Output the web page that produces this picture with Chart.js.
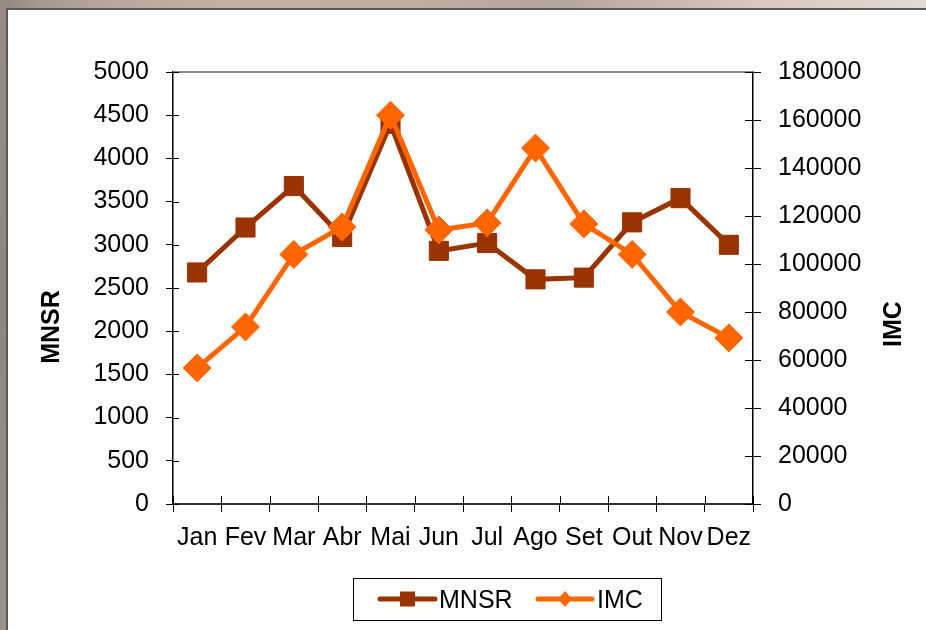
<!DOCTYPE html>
<html>
<head>
<meta charset="utf-8">
<script src="https://cdn.jsdelivr.net/npm/chart.js@4/dist/chart.umd.min.js"></script>
<style>
  html, body { margin: 0; padding: 0; }
  body {
    width: 926px; height: 630px; overflow: hidden; position: relative;
    background: linear-gradient(to right, #8f8680 0%, #a4988f 4%, #b6a89b 12%, #c1b1a1 25%, #bdae9f 45%, #b2a59d 60%, #c6b8ad 72%, #d8c9bd 82%, #dcd1c9 92%, #e2dbda 100%);
  }
  #strip {
    position: absolute; left: 0; top: 0; width: 7px; height: 630px;
    background: linear-gradient(to bottom, #978d86 0%, #8f8680 50%, #9a918b 100%);
  }
  #frame {
    position: absolute; left: 6px; top: 8px; width: 920px; height: 622px;
    box-sizing: border-box; background: #fff;
    border-left: 2px solid #5c5856; border-top: 2px solid #5c5856;
  }
  #wrap { position: absolute; left: 0; top: 0; width: 918px; height: 620px; }
</style>
</head>
<body>
<div id="strip"></div>
<div id="frame"><div id="wrap"><canvas id="c" width="918" height="620"></canvas></div></div>
<script>
const months = ['Jan', 'Fev', 'Mar', 'Abr', 'Mai', 'Jun', 'Jul', 'Ago', 'Set', 'Out', 'Nov', 'Dez'];
const mnsrValues = [2680, 3200, 3680, 3090, 4400, 2930, 3020, 2600, 2620, 3260, 3540, 3000];
const imcValues = [56700, 73800, 104000, 115400, 162000, 114200, 117100, 148300, 116700, 104000, 80000, 69200];
const seriesNames = ['MNSR', 'IMC'];
const axisTitles = ['MNSR', 'IMC'];

const BROWN = '#993300';
const ORANGE = '#ff6600';
const FONT = "'Liberation Sans', Arial, sans-serif";
const TICK_SIZE = 25;

// Extra drawing: plot-area top border, inner halves of the axis ticks,
// rotated axis titles and the boxed legend.
const decorations = {
  id: 'decorations',
  afterDatasetsDraw(chart) {
    const ctx = chart.ctx;
    const area = chart.chartArea;
    const x = chart.scales.x, yl = chart.scales.y, yr = chart.scales.y1;
    ctx.save();
    // top edge of plot area
    ctx.strokeStyle = '#8a8a8a';
    ctx.lineWidth = 2;
    ctx.beginPath();
    ctx.moveTo(area.left, area.top);
    ctx.lineTo(area.right, area.top);
    ctx.stroke();
    // inner tick halves
    ctx.strokeStyle = '#000';
    ctx.lineWidth = 1;
    ctx.beginPath();
    yl.ticks.forEach(t => {
      const py = Math.round(yl.getPixelForValue(t.value)) + 0.5;
      ctx.moveTo(area.left, py); ctx.lineTo(area.left + 6, py);
    });
    yr.ticks.forEach(t => {
      const py = Math.round(yr.getPixelForValue(t.value)) + 0.5;
      ctx.moveTo(area.right, py); ctx.lineTo(area.right - 8, py);
    });
    for (let i = 0; i <= months.length; i++) {
      const px = Math.round(x.getPixelForValue(i - 0.5)) + 0.5;
      ctx.moveTo(px, area.bottom); ctx.lineTo(px, area.bottom - 8);
    }
    ctx.stroke();
    ctx.restore();
  },
  afterDraw(chart) {
    const ctx = chart.ctx;
    ctx.save();
    // axis titles, both reading bottom to top
    ctx.fillStyle = '#000';
    ctx.font = 'bold 25px ' + FONT;
    ctx.textAlign = 'center';
    ctx.textBaseline = 'middle';
    [[44, 317, axisTitles[0]], [886, 314, axisTitles[1]]].forEach(([tx, ty, txt]) => {
      ctx.save();
      ctx.translate(tx, ty);
      ctx.rotate(-Math.PI / 2);
      ctx.fillText(txt, 0, 0);
      ctx.restore();
    });
    // legend
    const bx = 345, by = 568, bw = 308, bh = 42;
    ctx.strokeStyle = '#000';
    ctx.lineWidth = 1;
    ctx.strokeRect(bx + 0.5, by + 0.5, bw, bh);
    const ly = 589;
    const items = [
      { x0: 372, x1: 427, color: BROWN, shape: 'square', label: seriesNames[0], tx: 431 },
      { x0: 530, x1: 584, color: ORANGE, shape: 'diamond', label: seriesNames[1], tx: 589 }
    ];
    items.forEach(it => {
      ctx.strokeStyle = it.color;
      ctx.fillStyle = it.color;
      ctx.lineWidth = 5;
      ctx.lineCap = 'round';
      ctx.beginPath();
      ctx.moveTo(it.x0, ly); ctx.lineTo(it.x1, ly);
      ctx.stroke();
      const cx = (it.x0 + it.x1) / 2;
      ctx.beginPath();
      if (it.shape === 'square') {
        ctx.rect(cx - 7.5, ly - 7.5, 15, 15);
      } else {
        ctx.moveTo(cx, ly - 8); ctx.lineTo(cx + 7, ly); ctx.lineTo(cx, ly + 8); ctx.lineTo(cx - 7, ly);
        ctx.closePath();
      }
      ctx.fill();
      ctx.fillStyle = '#000';
      ctx.font = TICK_SIZE + 'px ' + FONT;
      ctx.textAlign = 'left';
      ctx.textBaseline = 'middle';
      ctx.fillText(it.label, it.tx, ly + 2);
    });
    ctx.restore();
  }
};

new Chart(document.getElementById('c'), {
  type: 'line',
  data: {
    labels: months,
    datasets: [
      {
        label: seriesNames[0],
        data: mnsrValues,
        yAxisID: 'y',
        order: 1,
        borderColor: BROWN,
        backgroundColor: BROWN,
        borderWidth: 5,
        pointStyle: 'rect',
        pointRadius: 13.5,
        pointBorderWidth: 1,
        pointBackgroundColor: BROWN,
        pointBorderColor: BROWN,
        tension: 0
      },
      {
        label: seriesNames[1],
        data: imcValues,
        yAxisID: 'y1',
        order: 0,
        borderColor: ORANGE,
        backgroundColor: ORANGE,
        borderWidth: 5,
        pointStyle: 'rectRot',
        pointRadius: 14,
        pointBorderWidth: 1,
        pointBackgroundColor: ORANGE,
        pointBorderColor: ORANGE,
        tension: 0
      }
    ]
  },
  options: {
    responsive: false,
    animation: false,
    events: [],
    layout: { padding: { top: 62, bottom: 76, left: 0, right: 0 } },
    plugins: { legend: { display: false }, tooltip: { enabled: false } },
    scales: {
      x: {
        offset: true,
        grid: { offset: true, drawOnChartArea: false, drawTicks: true, tickLength: 8, color: '#000', lineWidth: 1 },
        border: { display: true, color: '#333', width: 2 },
        ticks: { color: '#000', font: { family: FONT, size: TICK_SIZE }, padding: 11, maxRotation: 0, autoSkip: false },
        afterFit(s) { s.height = 50; }
      },
      y: {
        position: 'left',
        min: 0, max: 5000,
        grid: { drawOnChartArea: false, drawTicks: true, tickLength: 7, color: '#000', lineWidth: 1 },
        border: { display: true, color: '#000', width: 1.5 },
        ticks: { stepSize: 500, color: '#000', font: { family: FONT, size: TICK_SIZE }, padding: 17, callback: v => String(v) },
        afterFit(s) { s.width = 165; }
      },
      y1: {
        position: 'right',
        min: 0, max: 180000,
        grid: { drawOnChartArea: false, drawTicks: true, tickLength: 8, color: '#000', lineWidth: 1 },
        border: { display: true, color: '#000', width: 1.5 },
        ticks: { stepSize: 20000, color: '#000', font: { family: FONT, size: TICK_SIZE }, padding: 17, callback: v => String(v) },
        afterFit(s) { s.width = 173; }
      }
    }
  },
  plugins: [decorations]
});
</script>
</body>
</html>
